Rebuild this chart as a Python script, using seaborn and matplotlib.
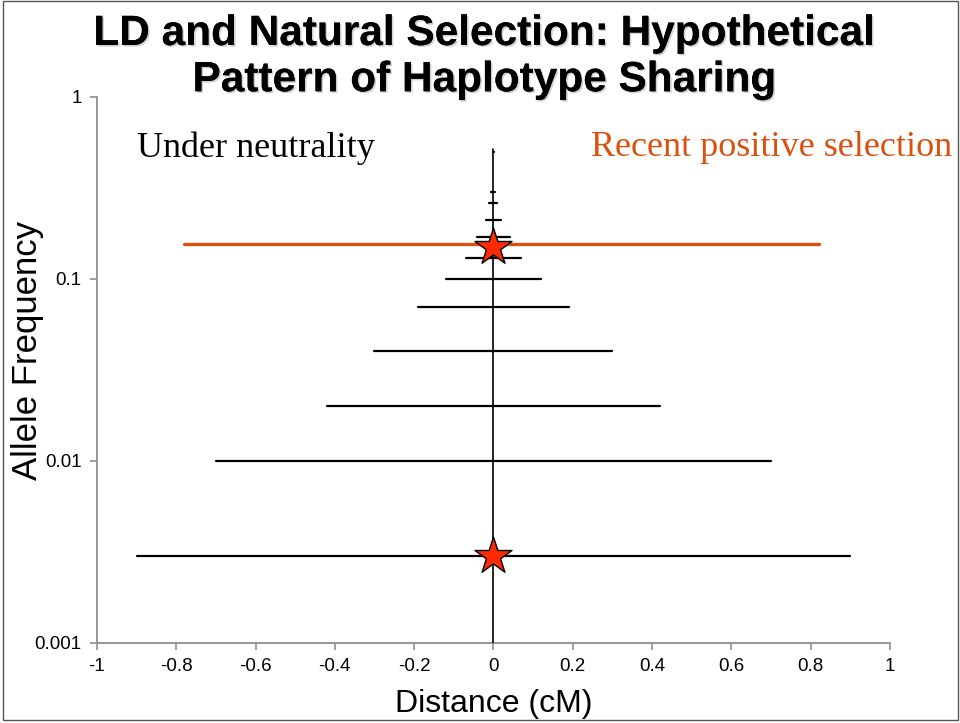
import matplotlib
matplotlib.use("Agg")
import matplotlib.pyplot as plt
import matplotlib.patheffects as pe
from matplotlib.patches import Rectangle
import numpy as np
import pandas as pd
import seaborn as sns

# Haplotype extent (cM on each side of the site) by allele frequency
allele_freq = [0.003, 0.01, 0.02, 0.04, 0.07, 0.1, 0.13, 0.17, 0.21, 0.26, 0.3, 0.5]
half_length = [0.9, 0.7, 0.42, 0.3, 0.19, 0.12, 0.07, 0.042, 0.018, 0.01, 0.005, 0.001]

# Selected haplotype: unusually long for its frequency
sel_freq = 0.155
sel_left, sel_right = -0.78, 0.82

# Marked variants
star_x = [0.0, 0.0]
star_freq = [0.15, 0.003]

# Site axis
site_x = [0.0, 0.0]
site_freq = [0.001, 0.52]

x_ticks = [-1, -0.8, -0.6, -0.4, -0.2, 0, 0.2, 0.4, 0.6, 0.8, 1]
x_tick_labels = ["-1", "-0.8", "-0.6", "-0.4", "-0.2", "0", "0.2", "0.4", "0.6", "0.8", "1"]
y_ticks = [0.001, 0.01, 0.1, 1]
y_tick_labels = ["0.001", "0.01", "0.1", "1"]

ORANGE = "#D9500F"
GRAY = "#8f8f8f"
sans = ["Liberation Sans", "DejaVu Sans"]
serif = ["Liberation Serif", "DejaVu Serif"]

sns.set_theme(style="white")
plt.rcParams["axes.unicode_minus"] = False
plt.rcParams["font.family"] = sans
plt.rcParams["text.color"] = "black"
plt.rcParams["axes.labelcolor"] = "black"

fig = plt.figure(figsize=(9.6, 7.23), dpi=100)
ax = fig.add_axes([0.101, 0.111, 0.826, 0.755])

rows = []
for i, (f, h) in enumerate(zip(allele_freq, half_length)):
    rows.append({"hap": i, "x": -h, "freq": f})
    rows.append({"hap": i, "x": h, "freq": f})
haps = pd.DataFrame(rows)

sns.lineplot(data=haps, x="x", y="freq", units="hap", estimator=None,
             color="black", lw=1.6, ax=ax, zorder=2)

site = pd.DataFrame({"x": site_x, "freq": site_freq})
sns.lineplot(data=site, x="x", y="freq", color="black", lw=1.2, ax=ax,
             estimator=None, zorder=3)

sel = pd.DataFrame({"x": [sel_left, sel_right], "freq": [sel_freq, sel_freq]})
sns.lineplot(data=sel, x="x", y="freq", color=ORANGE, lw=2.4, ax=ax,
             estimator=None, zorder=4)

stars = pd.DataFrame({"x": star_x, "freq": star_freq})
sns.scatterplot(data=stars, x="x", y="freq", marker="*", s=28 ** 2,
                color="#FF2A00", edgecolor="black", linewidth=1.0, ax=ax, zorder=5)

ax.set_yscale("log")
ax.set_xlim(-1, 1)
ax.set_ylim(0.001, 1)
ax.set_xticks(x_ticks)
ax.set_xticklabels(x_tick_labels, family=sans, fontsize=13.5)
ax.set_yticks(y_ticks)
ax.set_yticklabels(y_tick_labels, family=sans, fontsize=13.5)
ax.minorticks_off()
ax.tick_params(axis="both", direction="out", length=5, width=1.2,
               color=GRAY, pad=6, labelcolor="black", left=True, bottom=True)

for side in ["top", "right"]:
    ax.spines[side].set_visible(False)
for side in ["left", "bottom"]:
    ax.spines[side].set_color(GRAY)
    ax.spines[side].set_linewidth(1.3)

ax.set_xlabel("Distance (cM)", family=sans, fontsize=23, color="black", va="center")
ax.xaxis.set_label_coords(0.5, -0.113)
ax.set_ylabel("Allele Frequency", family=sans, fontsize=25, color="black", va="center")
ax.yaxis.set_label_coords(-0.087, 0.535)

ax.text(-0.9, 0.52, "Under neutrality", family=serif,
        fontsize=26, color="black", va="center", ha="left")
ax.text(1.158, 0.525, "Recent positive selection", family=serif,
        fontsize=26, color=ORANGE, va="center", ha="right", clip_on=False)

shadow = [pe.withSimplePatchShadow(offset=(1.2, -1.2), shadow_rgbFace="gray", alpha=0.35),
          pe.Normal()]
fig.text(0.505, 0.953, "LD and Natural Selection: Hypothetical", fontsize=30.5,
         fontweight="bold", color="black", ha="center", va="center", path_effects=shadow)
fig.text(0.505, 0.889, "Pattern of Haplotype Sharing", fontsize=30.5,
         fontweight="bold", color="black", ha="center", va="center", path_effects=shadow)

fig.patches.append(Rectangle((0.003, 0.004), 0.995, 0.994, transform=fig.transFigure,
                             fill=False, edgecolor="#555555", lw=1.0))

fig.savefig("out.png", dpi=100)
